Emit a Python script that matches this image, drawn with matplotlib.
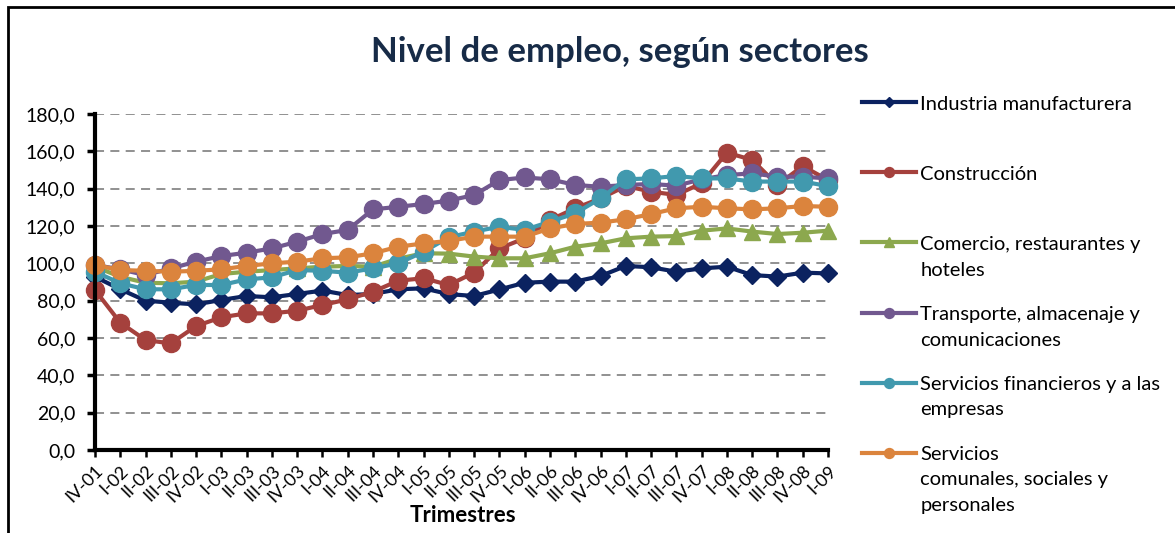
import numpy as np
import matplotlib.pyplot as plt
from matplotlib.patches import Rectangle

# Trimestres (IV-01 ... I-09)
trimestres = ["IV-01", "I-02", "II-02", "III-02", "IV-02", "I-03", "II-03", "III-03",
              "IV-03", "I-04", "II-04", "III-04", "IV-04", "I-05", "II-05", "III-05",
              "IV-05", "I-06", "II-06", "III-06", "IV-06", "I-07", "II-07", "III-07",
              "IV-07", "I-08", "II-08", "III-08", "IV-08", "I-09"]

industria = [92.8, 86.1, 80.0, 78.9, 78.0, 80.4, 82.5, 81.8, 83.6, 85.4, 83.0, 83.6, 86.1, 86.6, 83.5,
             82.5, 86.0, 89.6, 90.2, 90.2, 93.2, 98.6, 97.9, 95.5, 97.3, 98.2, 93.7, 92.9, 95.0, 94.6]
construccion = [85.7, 68.2, 58.9, 57.1, 66.4, 71.1, 73.2, 73.2, 74.6, 77.7, 80.7, 84.8, 90.7, 92.0, 88.4,
                95.0, 108.0, 113.4, 123.2, 129.5, 134.8, 141.4, 138.4, 136.6, 142.9, 159.3, 155.4, 142.0, 152.1, 144.6]
comercio = [98.2, 92.8, 89.6, 89.3, 90.2, 94.3, 95.5, 96.4, 97.3, 98.2, 98.6, 98.2, 102.5, 105.4, 105.2,
            103.6, 102.7, 102.7, 105.4, 108.9, 110.7, 113.4, 114.3, 114.6, 117.5, 118.7, 117.0, 115.7, 116.4, 117.5]
transporte = [99.1, 96.8, 93.7, 97.3, 100.9, 103.9, 105.7, 108.0, 111.6, 115.7, 117.9, 128.9, 130.3, 131.8, 133.6,
              136.6, 144.6, 146.0, 145.0, 142.0, 141.0, 142.0, 142.5, 141.6, 145.0, 147.3, 148.2, 146.4, 146.4, 145.5]
financieros = [95.5, 89.3, 86.1, 86.1, 88.4, 88.4, 91.4, 92.5, 96.4, 96.0, 95.0, 97.3, 100.0, 106.2, 114.0,
               117.0, 119.6, 117.9, 122.3, 126.8, 134.8, 145.0, 145.5, 146.8, 145.5, 145.5, 143.8, 143.8, 143.8, 141.4]
comunales = [99.1, 96.4, 96.0, 95.5, 96.0, 96.8, 98.6, 100.0, 100.9, 102.7, 103.2, 105.4, 108.9, 110.7, 112.0,
             114.3, 114.3, 114.3, 118.7, 121.1, 121.8, 123.6, 126.4, 129.5, 130.3, 129.5, 128.9, 129.5, 130.7, 130.3]

series = [
    ("Industria manufacturera", industria, "#0B2260", "D", 9.5),
    ("Construcción", construccion, "#A5413D", "o", 13),
    ("Comercio, restaurantes y\nhoteles", comercio, "#8CA84E", "^", 12),
    ("Transporte, almacenaje y\ncomunicaciones", transporte, "#71588F", "o", 13),
    ("Servicios financieros y a las\nempresas", financieros, "#4199AE", "o", 13),
    ("Servicios\ncomunales, sociales y\npersonales", comunales, "#DB843D", "o", 13),
]

plt.rcParams['font.family'] = ['Lato', 'DejaVu Sans']

fig = plt.figure(figsize=(11.75, 5.33), dpi=100)
ax = fig.add_axes([95 / 1175, 1 - 450 / 533, 733 / 1175, 336 / 533])

x = np.arange(len(trimestres))
lines = []
for label, vals, color, marker, ms in series:
    ln, = ax.plot(x, vals, color=color, lw=3, marker=marker, markersize=ms,
                  markeredgecolor=color, label=label, solid_joinstyle='round')
    ln.set_clip_on(False)
    lines.append(ln)

ax.set_xlim(0, len(trimestres) - 1)
ax.set_ylim(0, 180)
ax.set_yticks(np.arange(0, 181, 20))
ax.set_yticklabels([f"{v:.1f}".replace(".", ",") for v in np.arange(0, 181, 20)], fontsize=14)
ax.set_xticks(x)
ax.set_xticklabels(trimestres, rotation=45, ha='right', rotation_mode='anchor', fontsize=13)
ax.tick_params(axis='y', length=6, width=2.5, pad=8)
ax.tick_params(axis='x', length=5, width=1.8, pad=4)
ax.yaxis.grid(True, color='#888888', ls=(0, (5, 3.5)), lw=1.3)
ax.set_axisbelow(True)
for s in ['top', 'right']:
    ax.spines[s].set_visible(False)
for s in ['left', 'bottom']:
    ax.spines[s].set_linewidth(3)

fig.text(620 / 1175, 1 - 52 / 533, "Nivel de empleo, según sectores", ha='center', va='center',
         fontsize=25, fontweight='bold', color='#172B47')
fig.text(463 / 1175, 1 - 515 / 533, "Trimestres", ha='center', va='center',
         fontsize=16, fontweight='bold')

# leyenda: una caja por serie con la primera línea; el resto del texto debajo
leg_fs = 14.5
line_px = 26
legs = []
for i, (ln, (label, *_)) in enumerate(zip(lines, series)):
    first = label.split("\n")[0]
    y_pix = 104 + i * 70
    leg = fig.legend([ln], [first], loc='center left',
                     bbox_to_anchor=(862 / 1175, 1 - y_pix / 533), frameon=False,
                     fontsize=leg_fs, handlelength=2.7, handletextpad=0.2, borderpad=0,
                     borderaxespad=0, markerscale=0.55)
    legs.append((leg, label, y_pix))

fig.canvas.draw()
for leg, label, y_pix in legs:
    x0 = leg.get_texts()[0].get_window_extent().x0
    for k, extra in enumerate(label.split("\n")[1:], start=1):
        fig.text(x0 / 1175, 1 - (y_pix + k * line_px) / 533, extra, ha='left', va='center',
                 fontsize=leg_fs)

fig.add_artist(Rectangle((8 / 1175, -0.02), 1.1, 1 - 7 / 533 + 0.02, transform=fig.transFigure,
                         fill=False, ec='black', lw=2, clip_on=False))

plt.savefig("out.png", dpi=100)
